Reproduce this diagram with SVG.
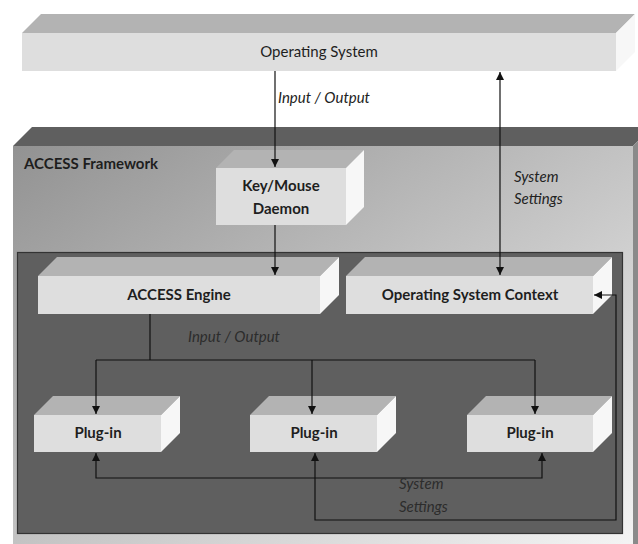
<svg xmlns="http://www.w3.org/2000/svg" width="638" height="544" viewBox="0 0 638 544">
  <style>
    .front { fill: #dedede; }
    .top { fill: #b3b3b3; }
    .side { fill: #f7f7f7; }
    .lbl { font-family: Lato, "Liberation Sans", sans-serif; font-size: 15px; fill: #1e1e1e; text-anchor: middle; }
    .b { font-weight: bold; }
    .it { font-family: Lato, "Liberation Sans", sans-serif; font-size: 15px; font-style: italic; fill: #222; }
    .it.dim { fill: #2c2c2c; }
    .wire { fill: none; stroke: #111; stroke-width: 1.2; }
  </style>
  <defs>
    <linearGradient id="fwFill" x1="0" y1="0" x2="1" y2="1">
      <stop offset="0" stop-color="#929292"/>
      <stop offset="1" stop-color="#f4f4f4"/>
    </linearGradient>
    <marker id="arrow" viewBox="0 0 10 10" refX="10" refY="5" markerWidth="8" markerHeight="8" markerUnits="userSpaceOnUse" orient="auto-start-reverse">
      <path d="M0,0 L10,5 L0,10 Z" fill="#111"/>
    </marker>
  </defs>

  <!-- Operating System -->
  <g id="os">
    <polygon class="top" points="22,33 41,14 635,14 616,33"/>
    <polygon class="side" points="616,33 635,14 635,52 616,71"/>
    <rect class="front" x="22" y="33" width="594" height="38"/>
    <text class="lbl" x="319" y="57">Operating System</text>
  </g>

  <!-- ACCESS Framework container -->
  <g id="framework">
    <polygon fill="#5f5f5f" points="13,146 32,127 652,127 633,146"/>
    <polygon fill="#8a8a8a" points="633,146 652,127 652,530 633,549"/>
    <rect x="13" y="146" width="620" height="400" fill="url(#fwFill)"/>
    <text class="lbl b" x="24" y="169" style="text-anchor:start">ACCESS Framework</text>
  </g>

  <!-- Key/Mouse Daemon -->
  <g id="daemon">
    <polygon class="top" points="216,168 234,150 364,150 346,168"/>
    <polygon class="side" points="346,168 364,150 364,207 346,225"/>
    <rect class="front" x="216" y="168" width="130" height="57"/>
    <text class="lbl b" x="281" y="191">Key/Mouse</text>
    <text class="lbl b" x="281" y="214">Daemon</text>
  </g>

  <!-- inner engine area -->
  <g id="engine-area">
    <rect x="17.5" y="252.5" width="605" height="281" fill="#5f5f5f" stroke="#333" stroke-width="1.2"/>
  </g>

  <!-- ACCESS Engine -->
  <g id="engine">
    <polygon class="top" points="38,276 57,257 339,257 320,276"/>
    <polygon class="side" points="320,276 339,257 339,295 320,314"/>
    <rect class="front" x="38" y="276" width="282" height="38"/>
    <text class="lbl b" x="179" y="300">ACCESS Engine</text>
  </g>

  <!-- Operating System Context -->
  <g id="os-context">
    <polygon class="top" points="346,276 365,257 612,257 593,276"/>
    <polygon class="side" points="593,276 612,257 612,295 593,314"/>
    <rect class="front" x="346" y="276" width="247" height="38"/>
    <text class="lbl b" x="470" y="300">Operating System Context</text>
  </g>

  <!-- Plug-ins -->
  <g id="plugin-1">
    <polygon class="top" points="34,415 53,396 180,396 161,415"/>
    <polygon class="side" points="161,415 180,396 180,433 161,452"/>
    <rect class="front" x="34" y="415" width="127" height="37"/>
    <text class="lbl b" x="98" y="438">Plug-in</text>
  </g>
  <g id="plugin-2">
    <polygon class="top" points="250,415 269,396 396,396 377,415"/>
    <polygon class="side" points="377,415 396,396 396,433 377,452"/>
    <rect class="front" x="250" y="415" width="127" height="37"/>
    <text class="lbl b" x="314" y="438">Plug-in</text>
  </g>
  <g id="plugin-3">
    <polygon class="top" points="467,415 486,396 612,396 593,415"/>
    <polygon class="side" points="593,415 612,396 612,433 593,452"/>
    <rect class="front" x="467" y="415" width="126" height="37"/>
    <text class="lbl b" x="530" y="438">Plug-in</text>
  </g>

  <!-- connectors -->
  <g id="connectors">
    <path class="wire" d="M275,71 V167" marker-end="url(#arrow)"/>
    <path class="wire" d="M275,225 V275" marker-end="url(#arrow)"/>
    <path class="wire" d="M500,72 V275" marker-start="url(#arrow)" marker-end="url(#arrow)"/>
    <path class="wire" d="M150,314 V360 M96,360 H535"/>
    <path class="wire" d="M96,360 V414" marker-end="url(#arrow)"/>
    <path class="wire" d="M312,360 V414" marker-end="url(#arrow)"/>
    <path class="wire" d="M535,360 V414" marker-end="url(#arrow)"/>
    <path class="wire" d="M96,453 V478 H542 V453" marker-start="url(#arrow)" marker-end="url(#arrow)"/>
    <path class="wire" d="M315,453 V520 H616 V295 H594" marker-start="url(#arrow)" marker-end="url(#arrow)"/>
  </g>

  <!-- connector labels -->
  <g id="labels">
    <text class="it" x="278" y="103">Input / Output</text>
    <text class="it" x="514" y="182">System</text>
    <text class="it" x="514" y="204">Settings</text>
    <text class="it dim" x="188" y="342">Input / Output</text>
    <text class="it dim" x="399" y="489">System</text>
    <text class="it dim" x="399" y="512">Settings</text>
  </g>
</svg>
